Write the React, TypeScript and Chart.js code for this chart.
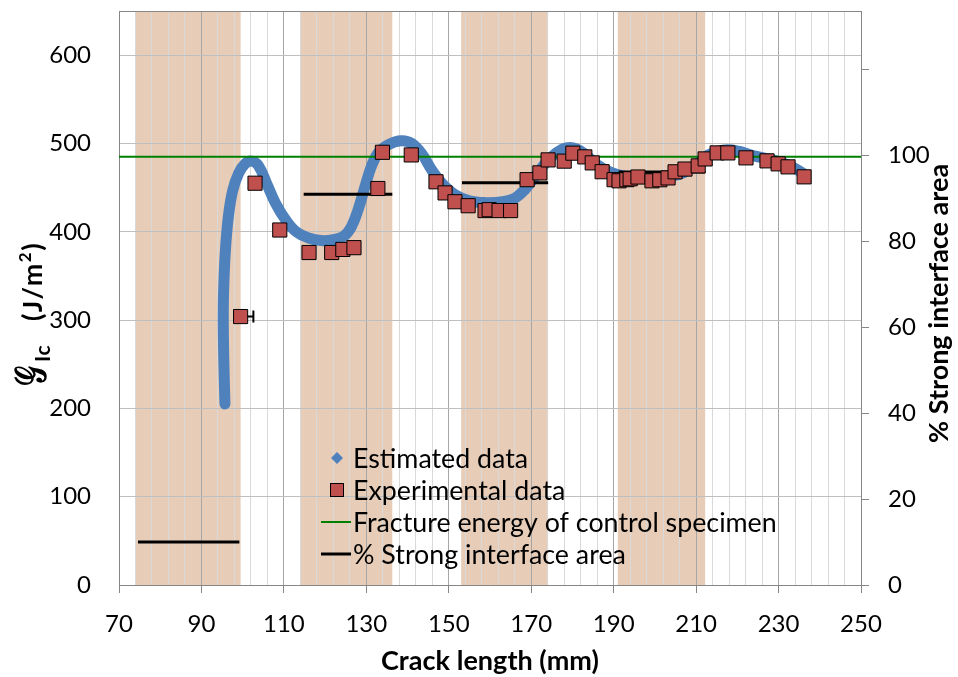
import React, { useEffect, useRef } from "react";
import { Chart, registerables } from "chart.js";

Chart.register(...registerables);

// ---------------- data ----------------
const estimatedX = [95.7, 95.4, 95.3, 95.5, 95.9, 96.6, 97.6, 99.0, 100.6, 102.2, 103.8, 105.8, 108, 110.5, 113, 116, 119, 122, 124.5, 126.3, 128, 129.6, 131.3, 133, 135.5, 138.5, 141, 143.5, 146, 148.5, 151.5, 155, 159, 163, 166, 168.5, 171, 173.5, 176, 178.5, 181, 183.5, 186, 189, 192.5, 196, 200, 204, 207, 209.5, 212, 214.5, 217.5, 220.5, 224, 228, 231, 233.5, 236];
const estimatedY = [205, 260, 310, 350, 385, 420, 447, 466, 477, 480, 475, 455, 432, 413, 400, 393, 390, 391, 395, 405, 425, 450, 475, 490, 499, 503, 500, 488, 469, 454, 442, 435, 433, 434, 438, 448, 463, 478, 489, 495, 494, 486, 476, 468, 463, 461, 461, 463, 467, 474, 484, 490, 493, 491, 486, 482, 478, 473, 466];

const experimentalX = [99.5, 103, 109, 116.1, 121.6, 124.3, 127, 132.8, 133.9, 140.9, 146.9, 149.1, 151.5, 154.7, 158.8, 159.8, 162.2, 165, 169, 172.1, 174.1, 178, 180.1, 183, 184.8, 187.2, 190.1, 191.3, 193.2, 194, 195.9, 199.3, 201.2, 203.2, 204.9, 207.3, 210.5, 212.2, 215.1, 217.7, 222.1, 227.2, 229.9, 232.3, 236.2];
const experimentalY = [304, 455, 402, 376.5, 376.5, 380, 382, 449, 490, 487, 456.6, 444, 434, 429.5, 424, 425, 424, 424, 459, 466.7, 481.4, 480, 489, 484.8, 478, 468, 459, 457.7, 459, 460, 462, 457.7, 458.9, 461, 467.9, 471, 474.6, 482.5, 489.3, 489.3, 483.7, 480.3, 476.9, 473.5, 462.2];

// horizontal error bar (plus side only) on the first experimental point
const errorBarX = [99.5];
const errorBarXMax = [102.6];
const errorBarY = [304];

const controlEnergy = 485;

// shaded strong-interface regions (crack length, mm)
const bandStart = [74, 114, 153, 191];
const bandEnd = [99.5, 136.3, 174.1, 212.2];

// % strong interface area segments
const strongStart = [74.6, 114.8, 153.2, 191.2];
const strongEnd = [99.2, 136.3, 174.1, 212.2];
const strongPercent = [10, 91, 93.7, 96.2];

const xMin = 70;
const xMax = 250;
const xMajorStep = 20;
const xMinorStep = 4;
const yMax = 650;
const yStep = 100;
const y2Max = 133.7;
const y2Step = 20;
const y2LabelMax = 100;

const labels = [
  "Estimated data",
  "Experimental data",
  "Fracture energy of control specimen",
  "% Strong interface area",
];
const xTitle = "Crack length (mm)";
const y2Title = "% Strong interface area";

// ---------------- styles ----------------
const FONT = "Lato";
const BLUE = "#4F81BD";
const RED = "#C0504D";
const GREEN = "#008000";
const BAND = "rgb(231,205,184)";
const AXIS = "#868686";

const isMajor = (v: number) =>
  v !== undefined && Math.abs(((Math.round(v) - xMin) % xMajorStep)) < 1e-6;

export default function App() {
  const ref = useRef<HTMLCanvasElement>(null);

  useEffect(() => {
    const canvas = ref.current;
    if (!canvas) return;

    const setLS = (ctx: any, v: number) => {
      if ("letterSpacing" in ctx) ctx.letterSpacing = `${v}px`;
    };
    const spacingFor = (ctx: any, text: string, targetWidth: number) => {
      setLS(ctx, 0);
      const w = ctx.measureText(text).width;
      return Math.max(0, (targetWidth - w) / text.length);
    };
    // font size (px) so that text spans targetWidth
    const sizeFor = (ctx: any, weight: string, text: string, targetWidth: number) => {
      setLS(ctx, 0);
      ctx.font = `${weight} 24px ${FONT}`;
      const w = ctx.measureText(text).width;
      return (24 * targetWidth) / w;
    };

    const bandsPlugin = {
      id: "bands",
      beforeDraw(chart: any) {
        const { ctx, chartArea: a, scales } = chart;
        const x = scales.x;
        ctx.save();
        ctx.fillStyle = BAND;
        bandStart.forEach((s, i) => {
          const x0 = x.getPixelForValue(s);
          const x1 = x.getPixelForValue(bandEnd[i]);
          ctx.fillRect(x0, a.top, x1 - x0, a.bottom - a.top);
        });
        ctx.restore();
      },
      beforeDatasetsDraw(chart: any) {
        const { ctx, chartArea: a, scales } = chart;
        ctx.save();
        ctx.strokeStyle = AXIS;
        ctx.lineWidth = 1;
        ctx.beginPath();
        ctx.moveTo(a.left, Math.round(a.top) + 0.5);
        ctx.lineTo(a.right, Math.round(a.top) + 0.5);
        ctx.stroke();
        ctx.strokeStyle = "#000";
        ctx.lineWidth = 2;
        errorBarX.forEach((ex, i) => {
          const px0 = scales.x.getPixelForValue(ex);
          const px1 = scales.x.getPixelForValue(errorBarXMax[i]);
          const py = scales.y.getPixelForValue(errorBarY[i]);
          ctx.beginPath();
          ctx.moveTo(px0, py);
          ctx.lineTo(px1, py);
          ctx.moveTo(px1, py - 6);
          ctx.lineTo(px1, py + 6);
          ctx.stroke();
        });
        ctx.restore();
      },
    };

    const titlesPlugin = {
      id: "titles",
      afterDraw(chart: any) {
        const { ctx } = chart;
        ctx.save();
        ctx.fillStyle = "#000";
        ctx.textBaseline = "alphabetic";

        // x title
        ctx.font = `bold 27px ${FONT}`;
        setLS(ctx, spacingFor(ctx, xTitle, 218));
        ctx.textAlign = "left";
        ctx.fillText(xTitle, 381, 670);

        // right title: page y 443 (bottom) -> 165 (top)
        ctx.save();
        ctx.rotate(-Math.PI / 2);
        ctx.font = `bold 27px ${FONT}`;
        setLS(ctx, spacingFor(ctx, y2Title, 278));
        ctx.textAlign = "left";
        ctx.fillText(y2Title, -443, 948);
        ctx.restore();

        // left title (rich text), laid out from bottom (page y 386) upward
        ctx.save();
        ctx.rotate(-Math.PI / 2);
        ctx.textAlign = "left";
        setLS(ctx, 0);
        ctx.save();
        ctx.scale(1, 1.55);
        ctx.font = `bold 28px "DejaVu Sans", "DejaVu Serif", serif`;
        ctx.fillText("\u{1D4A2}", -386, 45 / 1.55);
        ctx.restore();
        ctx.font = `bold 21px ${FONT}`;
        setLS(ctx, 0.5);
        ctx.fillText("Ic", -362, 50);
        // "(J/m²)" spanning page y 321 -> 242
        ctx.font = `bold 27px ${FONT}`;
        setLS(ctx, 0);
        const wMain = ctx.measureText("(J/m").width + ctx.measureText(")").width;
        ctx.font = `bold 17px ${FONT}`;
        const wSup = ctx.measureText("2").width;
        const ls = Math.max(0, (79 - wMain - wSup) / 6);
        let u = -321;
        ctx.font = `bold 27px ${FONT}`;
        setLS(ctx, ls);
        ctx.fillText("(J/m", u, 42);
        u += ctx.measureText("(J/m").width;
        ctx.font = `bold 17px ${FONT}`;
        ctx.fillText("2", u, 31);
        u += ctx.measureText("2").width;
        ctx.font = `bold 27px ${FONT}`;
        ctx.fillText(")", u, 42);
        ctx.restore();
        ctx.restore();
      },
    };

    const legendPlugin = {
      id: "legendBox",
      afterDraw(chart: any) {
        const { ctx } = chart;
        const ds = chart.data.datasets;
        const mx = 337;
        const tx = 353;
        const y0 = 458;
        const dy = 32;
        ctx.save();
        const size = sizeFor(ctx, "normal", labels[2], 424);
        ctx.font = `${size.toFixed(2)}px ${FONT}`;
        setLS(ctx, 0);
        ctx.textAlign = "left";
        ctx.textBaseline = "middle";
        [0, 1, 2, 3].forEach((di, row) => {
          const d = ds[di];
          const y = y0 + row * dy;
          if (row === 0) {
            ctx.fillStyle = BLUE;
            ctx.beginPath();
            ctx.moveTo(mx, y - 6);
            ctx.lineTo(mx + 6, y);
            ctx.lineTo(mx, y + 6);
            ctx.lineTo(mx - 6, y);
            ctx.closePath();
            ctx.fill();
          } else if (row === 1) {
            ctx.fillStyle = RED;
            ctx.fillRect(mx - 6.5, y - 6.5, 13, 13);
            ctx.strokeStyle = "#000";
            ctx.lineWidth = 1;
            ctx.strokeRect(mx - 6.5, y - 6.5, 13, 13);
          } else {
            ctx.strokeStyle = d.borderColor;
            ctx.lineWidth = row === 2 ? 2 : 3;
            ctx.beginPath();
            ctx.moveTo(mx - 16, y);
            ctx.lineTo(mx + 14, y);
            ctx.stroke();
          }
          ctx.fillStyle = "#000";
          ctx.fillText(d.label, tx, y + 1);
        });
        ctx.restore();
      },
    };

    const strongData: any[] = [];
    strongStart.forEach((s, i) => {
      strongData.push({ x: s, y: strongPercent[i] });
      strongData.push({ x: strongEnd[i], y: strongPercent[i] });
      strongData.push({ x: strongEnd[i], y: null });
    });

    const tickFont = { family: FONT, size: 24 };

    const chart = new Chart(canvas, {
      type: "scatter",
      data: {
        datasets: [
          {
            label: labels[0],
            data: estimatedX.map((x, i) => ({ x, y: estimatedY[i] })),
            showLine: true,
            borderColor: BLUE,
            backgroundColor: BLUE,
            borderWidth: 11,
            pointRadius: 0,
            tension: 0.4,
            borderCapStyle: "round",
            borderJoinStyle: "round",
            order: 4,
          },
          {
            label: labels[1],
            data: experimentalX.map((x, i) => ({ x, y: experimentalY[i] })),
            pointStyle: "rect",
            pointRadius: 10,
            backgroundColor: RED,
            borderColor: "#000",
            borderWidth: 1,
            order: 1,
          },
          {
            label: labels[2],
            data: [
              { x: xMin, y: controlEnergy },
              { x: xMax, y: controlEnergy },
            ],
            showLine: true,
            borderColor: GREEN,
            borderWidth: 2,
            pointRadius: 0,
            order: 3,
          },
          {
            label: labels[3],
            yAxisID: "y2",
            data: strongData,
            showLine: true,
            spanGaps: false,
            borderColor: "#000",
            borderWidth: 3,
            pointRadius: 0,
            order: 2,
          },
        ] as any,
      },
      options: {
        responsive: false,
        animation: false,
        devicePixelRatio: 1,
        events: [],
        layout: { padding: { top: 9, left: 0, right: 0, bottom: 0 } },
        plugins: {
          legend: { display: false },
          tooltip: { enabled: false },
        },
        scales: {
          x: {
            type: "linear",
            position: "bottom",
            min: xMin,
            max: xMax,
            ticks: {
              stepSize: xMinorStep,
              autoSkip: false,
              maxRotation: 0,
              minRotation: 0,
              color: "#000",
              font: tickFont,
              padding: 17,
              callback: (v: any) => (isMajor(Number(v)) ? String(Math.round(Number(v))) : ""),
            },
            grid: {
              color: (c: any) => (c.tick && isMajor(c.tick.value) ? "#a6a6a6" : "#d9d9d9"),
              tickColor: (c: any) => (c.tick && isMajor(c.tick.value) ? AXIS : "rgba(0,0,0,0)"),
              tickLength: 8,
              drawTicks: true,
              lineWidth: 1,
            },
            border: { color: AXIS, width: 1 },
            afterFit: (s: any) => {
              s.height = 92;
              s.paddingLeft = 0;
              s.paddingRight = 0;
            },
          },
          y: {
            position: "left",
            min: 0,
            max: yMax,
            ticks: {
              stepSize: yStep,
              includeBounds: false,
              color: "#000",
              font: tickFont,
              padding: 28,
            },
            grid: { color: "#bfbfbf", drawTicks: false, lineWidth: 1 },
            border: { color: AXIS, width: 1 },
            afterFit: (s: any) => {
              s.width = 119;
              s.paddingTop = 0;
              s.paddingBottom = 0;
            },
          },
          y2: {
            position: "right",
            min: 0,
            max: y2Max,
            ticks: {
              stepSize: y2Step,
              includeBounds: false,
              color: "#000",
              font: tickFont,
              padding: 19,
              callback: (v: any) => (Number(v) <= y2LabelMax ? String(v) : ""),
            },
            grid: {
              drawOnChartArea: false,
              drawTicks: true,
              tickLength: 8,
              tickColor: AXIS,
            },
            border: { color: AXIS, width: 1 },
            afterFit: (s: any) => {
              s.width = 97;
              s.paddingTop = 0;
              s.paddingBottom = 0;
            },
          },
        },
      } as any,
      plugins: [bandsPlugin, titlesPlugin, legendPlugin],
    });

    return () => chart.destroy();
  }, []);

  return (
    <canvas
      ref={ref}
      width={958}
      height={677}
      style={{ position: "fixed", left: 0, top: 0, width: 958, height: 677 }}
    />
  );
}
